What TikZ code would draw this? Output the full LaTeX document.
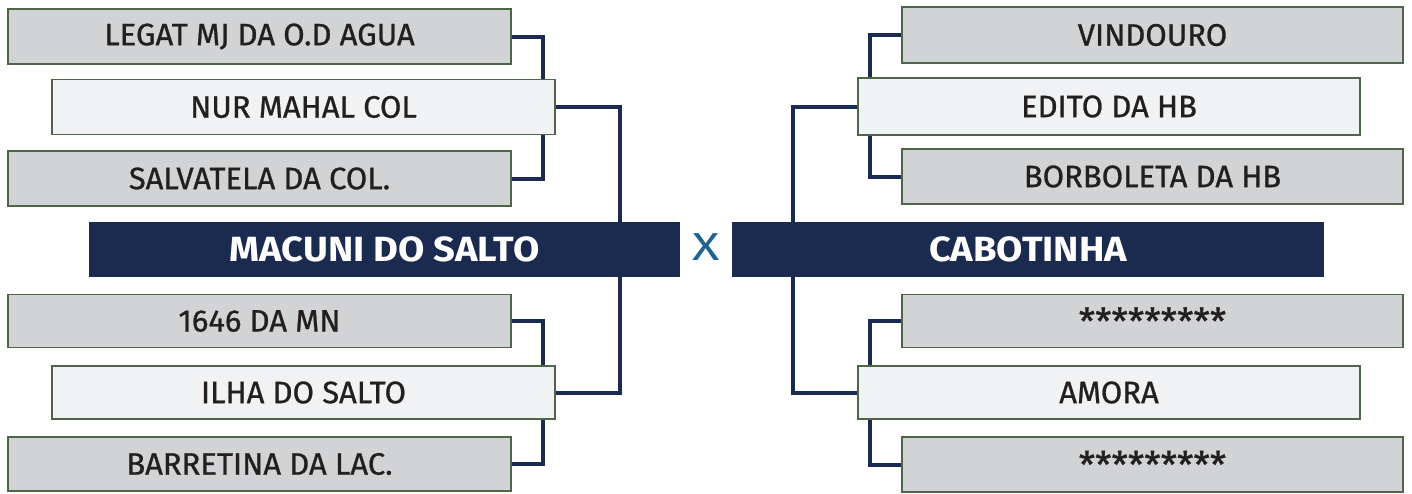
\documentclass[tikz,border=0pt]{standalone}
\usepackage{fontspec}
\setmainfont[FakeBold=0.8]{Fira Sans}
\newfontfamily\boldfam[FakeStretch=1.09]{Fira Sans Bold}
\newfontfamily\plainfam{Fira Sans}
\definecolor{navy}{HTML}{1B2B50}
\definecolor{boxgray}{HTML}{D1D3D4}
\definecolor{boxlight}{HTML}{F1F2F3}
\definecolor{boxedge}{HTML}{4E6547}
\definecolor{xblue}{HTML}{1F6391}
\definecolor{ink}{HTML}{231F20}
\begin{document}
\begin{tikzpicture}[x=1pt,y=-1pt,
  graybox/.style={draw=boxedge,line width=1.2pt,fill=boxgray,minimum width=503pt,minimum height=55pt,inner sep=0pt,font=\fontsize{31}{34}\selectfont,text=ink},
  lightbox/.style={graybox,fill=boxlight},
  mainbox/.style={fill=navy,minimum width=591pt,minimum height=55pt,inner sep=0pt,font=\fontsize{35}{38}\boldfam,text=white},
  link/.style={draw=navy,line width=4pt}]
\newcommand{\stars}{{\fontsize{37}{40}\selectfont\raisebox{-3pt}{*********}}}
\useasboundingbox (0,0) rectangle (1412,493);
\fill[white] (0,0) rectangle (1412,493);
\coordinate (lA) at (543,0);
\coordinate (lB) at (620,0);
\coordinate (rA) at (870,0);
\coordinate (rB) at (793,0);
\node[graybox] (legat) at (259.5,36.5) {LEGAT MJ DA O.D AGUA};
\node[lightbox] (nur) at (303.5,107) {NUR MAHAL COL};
\node[graybox] (salv) at (259.5,178.5) {SALVATELA DA COL.};
\node[mainbox] (macuni) at (384.5,249.5) {MACUNI DO SALTO};
\node[graybox,minimum height=53pt] (mn) at (259.5,321) {1646 DA MN};
\node[lightbox,minimum height=53pt] (ilha) at (303.5,392.5) {ILHA DO SALTO};
\node[graybox,minimum height=54pt] (barr) at (259.5,464) {BARRETINA DA LAC.};
\node[graybox,minimum width=501pt,minimum height=56pt] (vind) at (1152.5,35) {VINDOURO};
\node[lightbox,minimum width=502pt,minimum height=57pt] (edito) at (1109,106.5) {EDITO DA HB};
\node[graybox,minimum width=501pt] (borb) at (1152.5,176.5) {BORBOLETA DA HB};
\node[mainbox,minimum width=592pt] (cabo) at (1028,249.5) {CABOTINHA};
\node[graybox,minimum width=501pt,minimum height=53pt] (st1) at (1152.5,321) {\stars};
\node[lightbox,minimum width=502pt,minimum height=53pt] (amora) at (1109,392.5) {AMORA};
\node[graybox,minimum width=501pt,minimum height=55pt] (st2) at (1152.5,464.5) {\stars};
\node[font=\fontsize{39}{40}\plainfam,text=xblue,inner sep=0pt] (vs) at (706,247) {\scalebox{1.3}[1]{X}};
\draw[link] (legat.east) -- (legat.east -| lA) -- (salv.east -| lA) -- (salv.east);
\draw[link] (mn.east) -- (mn.east -| lA) -- (barr.east -| lA) -- (barr.east);
\draw[link] (nur.east) -- (nur.east -| lB) -- (macuni.north -| lB);
\draw[link] (macuni.south -| lB) -- (ilha.east -| lB) -- (ilha.east);
\draw[link] (vind.west) -- (vind.west -| rA) -- (borb.west -| rA) -- (borb.west);
\draw[link] (st1.west) -- (st1.west -| rA) -- (st2.west -| rA) -- (st2.west);
\draw[link] (edito.west) -- (edito.west -| rB) -- (cabo.north -| rB);
\draw[link] (cabo.south -| rB) -- (amora.west -| rB) -- (amora.west);
\node[lightbox] at (nur) {NUR MAHAL COL};
\node[lightbox,minimum height=53pt] at (ilha) {ILHA DO SALTO};
\node[lightbox,minimum width=502pt,minimum height=57pt] at (edito) {EDITO DA HB};
\node[lightbox,minimum width=502pt,minimum height=53pt] at (amora) {AMORA};
\end{tikzpicture}
\end{document}
